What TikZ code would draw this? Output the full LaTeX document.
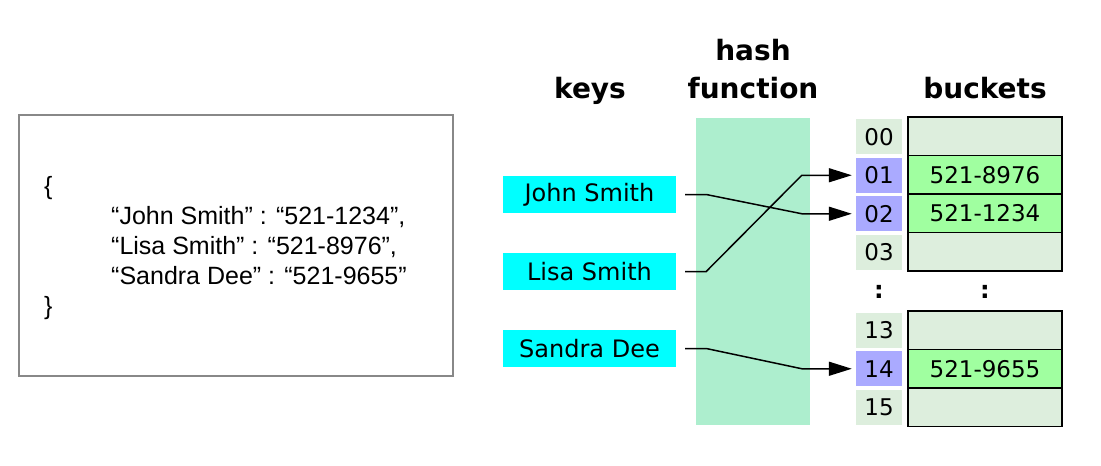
\documentclass[tikz,border=0pt]{standalone}
\usepackage{fontspec}
\setmainfont{DejaVu Sans}
\newfontfamily\arialfont{Liberation Sans}
\usetikzlibrary{arrows.meta}
\definecolor{keycyan}{HTML}{00FFFF}
\definecolor{hashgreen}{HTML}{ADEECE}
\definecolor{idxgray}{HTML}{DDEEDD}
\definecolor{idxblue}{HTML}{AAAAFF}
\definecolor{fullgreen}{HTML}{A0FFA0}
\definecolor{boxgray}{HTML}{888888}
\tikzset{
  hdr/.style={font=\fontsize{28}{30}\selectfont\bfseries, inner sep=0pt, anchor=base},
  keybox/.style={fill=keycyan, minimum width=173pt, minimum height=37pt, inner sep=0pt, font=\fontsize{24}{26}\selectfont},
  idx/.style={fill=idxgray, minimum width=46pt, minimum height=35pt, inner sep=0pt, font=\fontsize{23}{25}\selectfont},
  idxhit/.style={idx, fill=idxblue},
  bkt/.style={draw=black, line width=1.5pt, fill=idxgray, minimum width=154pt, minimum height=38.5pt, inner sep=0pt, font=\fontsize{23}{25}\selectfont},
  bkthit/.style={bkt, fill=fullgreen},
  code/.style={font=\arialfont\fontsize{25}{30}\selectfont, inner sep=0pt, anchor=base west},
  link/.style={line width=1.5pt, -{Triangle[length=23pt, width=14pt]}, shorten >=4pt},
  dots/.style={font=\fontsize{24}{26}\selectfont\bfseries, inner sep=0pt}
}
\begin{document}
\begin{tikzpicture}[x=1pt, y=-1pt]
\useasboundingbox (0,0) rectangle (1101,466);
% left dictionary box
\node[draw=boxgray, line width=1.5pt, minimum width=434pt, minimum height=261pt, inner sep=0pt] (dict) at (236,245.5) {};
\node[code] (lb) at (44,194) {\{};
\node[code] (l1) at (111,224) {“John Smith” : “521-1234”,};
\node[code] (l2) at (111,254) {“Lisa Smith” : “521-8976”,};
\node[code] (l3) at (111,284) {“Sandra Dee” : “521-9655”};
\node[code] (rb) at (44,314) {\}};
% headers
\node[hdr] (hkeys) at (590,98) {keys};
\node[hdr] (hhash) at (753,60) {hash};
\node[hdr] (hfunc) at (753,98) {function};
\node[hdr] (hbuck) at (985,98) {buckets};
% hash function band
\node[fill=hashgreen, minimum width=114pt, minimum height=307pt, inner sep=0pt] (hf) at (753,271.5) {};
% keys
\node[keybox] (js) at (589.5,194.5) {John Smith};
\node[keybox] (ls) at (589.5,271.5) {Lisa Smith};
\node[keybox] (sd) at (589.5,348.5) {Sandra Dee};
% index cells
\node[idx]    (i00) at (879,136.75) {00};
\node[idxhit] (i01) at (879,175.25) {01};
\node[idxhit] (i02) at (879,213.75) {02};
\node[idx]    (i03) at (879,252.25) {03};
\node[idx]    (i13) at (879,330.25) {13};
\node[idxhit] (i14) at (879,368.75) {14};
\node[idx]    (i15) at (879,407.25) {15};
% buckets
\node[bkt]    (b00) at (985,136.25) {};
\node[bkthit] (b01) at (985,174.75) {521-8976};
\node[bkthit] (b02) at (985,213.25) {521-1234};
\node[bkt]    (b03) at (985,251.75) {};
\node[bkt]    (b13) at (985,330.25) {};
\node[bkthit] (b14) at (985,368.75) {521-9655};
\node[bkt]    (b15) at (985,407.25) {};
% dots
\node[dots] (d1) at (879,292) {:};
\node[dots] (d2) at (985,292) {:};
% connectors
\draw[link] ([xshift=9pt]js.east) -- ++(21,0) -- ([xshift=-54pt]i02.west) -- (i02.west);
\draw[link] ([xshift=9pt]ls.east) -- ++(21,0) -- ([xshift=-54pt]i01.west) -- (i01.west);
\draw[link] ([xshift=9pt]sd.east) -- ++(21,0) -- ([xshift=-54pt]i14.west) -- (i14.west);
\end{tikzpicture}
\end{document}
